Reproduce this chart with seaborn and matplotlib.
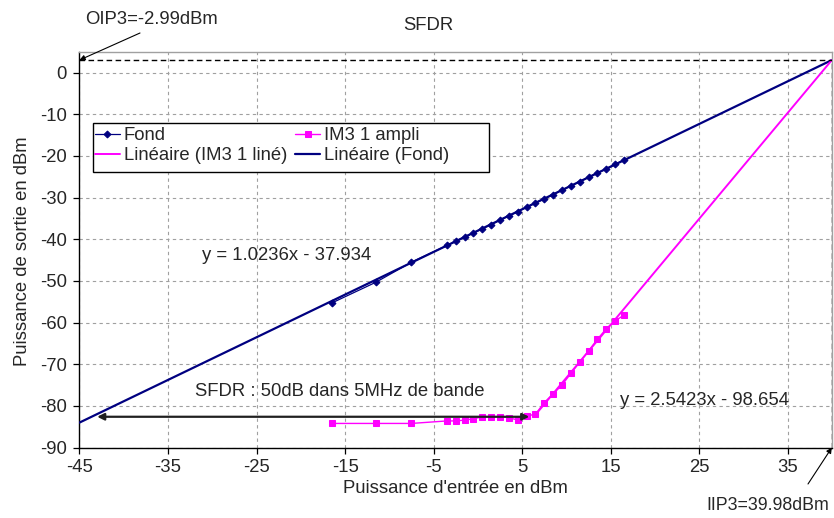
import numpy as np
import pandas as pd
import matplotlib
matplotlib.use("Agg")
import matplotlib.pyplot as plt
from matplotlib.patches import Rectangle
import seaborn as sns

# Input power (dBm) for both measured series
p_in = [-16.5, -11.5, -7.5, -3.5, -2.5, -1.5, -0.5, 0.5, 1.5, 2.5, 3.5, 4.5,
        5.5, 6.5, 7.5, 8.5, 9.5, 10.5, 11.5, 12.5, 13.5, 14.5, 15.5, 16.5]
# Fundamental output power (dBm)
fond = [-55.3, -50.3, -45.5, -41.5, -40.5, -39.4, -38.5, -37.5, -36.5, -35.4,
        -34.4, -33.4, -32.3, -31.3, -30.3, -29.3, -28.2, -27.2, -26.2, -25.1,
        -24.1, -23.1, -22.0, -21.0]
# Third-order intermodulation output power (dBm)
im3 = [-84.2, -84.2, -84.2, -83.6, -83.6, -83.4, -83.1, -82.6, -82.6, -82.6,
       -82.8, -83.4, -82.4, -82.0, -79.2, -77.1, -75.0, -72.2, -69.5, -66.8,
       -64.0, -61.5, -59.6, -58.2]

# Linear fits
fond_slope, fond_icpt = 1.0236, -37.934
im3_slope, im3_icpt = 2.5423, -98.654
iip3 = (im3_icpt - fond_icpt) / (fond_slope - im3_slope)
oip3 = fond_slope * iip3 + fond_icpt

xticks = list(range(-45, 36, 10))
yticks = list(range(-90, 1, 10))

NAVY = "#000080"
MAGENTA = "#FF00FF"
FS = 13.3

W, H = 834, 518


def fig_px(x, y):
    """Figure-fraction coordinates from pixel position (origin top-left)."""
    return (x / W, 1 - y / H)


sns.set_style("white")
plt.rcParams["font.family"] = ["Liberation Sans", "DejaVu Sans"]
plt.rcParams["axes.unicode_minus"] = False

fig = plt.figure(figsize=(W / 100, H / 100), dpi=100)
ax = fig.add_axes([0.0953, 0.1359, 0.9023, 0.7643])

df = pd.DataFrame({"p_in": p_in, "fond": fond, "im3": im3})

# Trend lines
fx = np.array([-45.0, iip3])
tf = pd.DataFrame({"x": fx, "y": fond_slope * fx + fond_icpt})
ix = np.array([6.5, iip3])
ti = pd.DataFrame({"x": ix, "y": im3_slope * ix + im3_icpt})

sns.lineplot(data=tf, x="x", y="y", ax=ax, color=NAVY, lw=1.6,
             label="Linéaire (Fond)", zorder=3)
sns.lineplot(data=ti, x="x", y="y", ax=ax, color=MAGENTA, lw=1.4,
             label="Linéaire (IM3 1 liné)", zorder=3)
sns.lineplot(data=df, x="p_in", y="fond", ax=ax, color=NAVY, lw=0.9,
             marker="D", markersize=3.5, markeredgecolor=NAVY,
             label="Fond", zorder=4)
sns.lineplot(data=df, x="p_in", y="im3", ax=ax, color=MAGENTA, lw=1.0,
             marker="s", markersize=4.5, markeredgecolor=MAGENTA,
             label="IM3 1 ampli", zorder=4)

# Intercept point guides
ax.plot([-45, iip3], [oip3, oip3], color="black", lw=1.0,
        ls=(0, (4, 2.5)), zorder=5)
ax.plot([iip3, iip3], [-90, oip3], color="black", lw=1.0,
        ls=(0, (4, 2.5)), zorder=5)

ax.set_xlim(-45, 40)
ax.set_ylim(-90, 5)
ax.set_xticks(xticks)
ax.set_yticks(yticks)
ax.set_xticklabels([str(t) for t in xticks])
ax.set_yticklabels([str(t) for t in yticks])
ax.tick_params(axis="both", labelsize=FS, length=4, width=0.9,
               direction="out", color="black", left=True, bottom=True)
ax.tick_params(axis="x", pad=4)
ax.tick_params(axis="y", pad=5)
ax.grid(True, color="#a0a0a0", ls=(0, (3, 3)), lw=0.8)

for side in ("left", "bottom"):
    ax.spines[side].set_color("black")
    ax.spines[side].set_linewidth(1.0)
for side in ("top", "right"):
    ax.spines[side].set_color("#a0a0a0")
    ax.spines[side].set_linewidth(1.0)

ax.set_xlabel("Puissance d'entrée en dBm", fontsize=FS, va="center")
ax.set_ylabel("Puissance de sortie en dBm", fontsize=FS, va="center")
ax.xaxis.set_label_coords(0.4997, -0.104)
ax.yaxis.set_label_coords(-0.0755, 0.497)

# Legend ordered row by row, inside a plain boxed frame
handles, labels = ax.get_legend_handles_labels()
order = ["Fond", "Linéaire (IM3 1 liné)", "IM3 1 ampli", "Linéaire (Fond)"]
hmap = dict(zip(labels, handles))
x0, y0 = fig_px(95, 127)
leg = ax.legend([hmap[k] for k in order], order, ncol=2, loc="upper left",
                bbox_to_anchor=(x0, y0), bbox_transform=fig.transFigure,
                fontsize=FS, frameon=False, borderpad=0, borderaxespad=0,
                handlelength=1.35, handletextpad=0.2, columnspacing=0.45,
                labelspacing=0.18)
leg.set_zorder(7)
bx0, by0 = fig_px(93, 172)
bx1, by1 = fig_px(489, 123)
ax.add_patch(Rectangle((bx0, by0), bx1 - bx0, by1 - by0,
                       transform=fig.transFigure, facecolor="white",
                       edgecolor="black", lw=1.0, zorder=6, clip_on=False))

# Annotations
ax.text(-31.2, -43.8, "y = 1.0236x - 37.934", fontsize=FS, va="center",
        ha="left")
ax.text(16.0, -78.6, "y = 2.5423x - 98.654", fontsize=FS, va="center",
        ha="left")
ax.text(-32.0, -76.6, "SFDR : 50dB dans 5MHz de bande", fontsize=FS,
        va="center", ha="left")
ax.annotate("", xy=(-43.0, -82.6), xytext=(5.8, -82.6),
            arrowprops=dict(arrowstyle="<|-|>", color="#202020", lw=1.6,
                            mutation_scale=10, shrinkA=0, shrinkB=0),
            zorder=6)

fig.text(*fig_px(428, 25), "SFDR", fontsize=FS, ha="center", va="center")

# Intercept point labels with pointers
fig.text(*fig_px(85, 20), "OIP3=-2.99dBm", fontsize=FS, ha="left",
         va="center")
ax.annotate("", xy=(-45, oip3), xycoords="data",
            xytext=fig_px(140, 33), textcoords="figure fraction",
            arrowprops=dict(arrowstyle="-|>", color="black", lw=0.8,
                            mutation_scale=8, shrinkA=0, shrinkB=0),
            annotation_clip=False)
fig.text(*fig_px(829, 505), "IIP3=39.98dBm", fontsize=12.8, ha="right",
         va="center")
ax.annotate("", xy=(iip3, -90), xycoords="data",
            xytext=fig_px(808, 484), textcoords="figure fraction",
            arrowprops=dict(arrowstyle="-|>", color="black", lw=0.8,
                            mutation_scale=8, shrinkA=0, shrinkB=0),
            annotation_clip=False)

fig.savefig("out.png", dpi=100)
